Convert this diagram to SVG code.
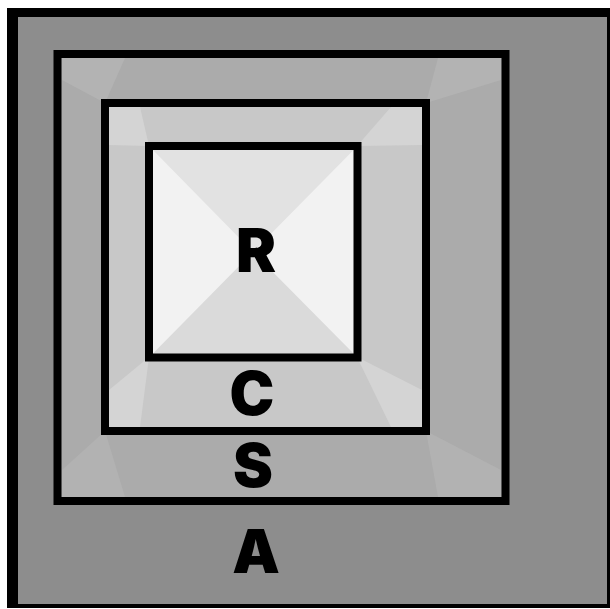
<svg xmlns="http://www.w3.org/2000/svg" width="610" height="609" viewBox="0 0 610 609">
  <defs>
    <style>
      .frame { fill: none; stroke: #000; stroke-width: 8; }
      .lbl { font-family: Inter, "Liberation Sans", sans-serif; font-weight: 900; font-size: 60px; fill: #000; text-anchor: middle; }
    </style>
  </defs>
  <rect x="0" y="0" width="610" height="609" fill="#fff"/>
  <g id="node-A">
    <rect x="7" y="8" width="603" height="600" fill="#000"/>
    <rect x="18" y="17" width="589" height="587" fill="#8d8d8d"/>
    <text class="lbl" x="256" y="573">A</text>
  </g>
  <g id="node-S">
    <rect x="57.5" y="54" width="448" height="447" fill="#ababab"/>
    <polygon points="62,58 125,58 105,103 62,80" fill="#b3b3b3"/>
    <polygon points="501,58 438,58 426,103 501,80" fill="#b3b3b3"/>
    <polygon points="62,497 125,497 105,431 62,470" fill="#b2b2b2"/>
    <polygon points="501,497 438,497 426,431 501,470" fill="#b2b2b2"/>
    <rect class="frame" x="57.5" y="54" width="448" height="447"/>
    <text class="lbl" x="253" y="487">S</text>
  </g>
  <g id="node-C">
    <rect x="105" y="103" width="321" height="328" fill="#c8c8c8"/>
    <polygon points="109,107 140,107 149,146 109,145" fill="#d4d4d4"/>
    <polygon points="422,107 391,107 357,146 422,145" fill="#d4d4d4"/>
    <polygon points="109,427 140,427 149,357 109,390" fill="#d4d4d4"/>
    <polygon points="422,427 391,427 357,357 422,390" fill="#d4d4d4"/>
    <rect class="frame" x="105" y="103" width="321" height="328"/>
    <text class="lbl" x="252" y="415">C</text>
  </g>
  <g id="node-R">
    <rect x="149" y="146" width="208.5" height="211.5" fill="#f2f2f2"/>
    <polygon points="149,146 357.5,146 253,252" fill="#e2e2e2"/>
    <polygon points="149,357.5 357.5,357.5 253,252" fill="#dadada"/>
    <rect class="frame" x="149" y="146" width="208.5" height="211.5"/>
    <text class="lbl" x="256" y="272">R</text>
  </g>
  <g id="connectors"/>
</svg>
